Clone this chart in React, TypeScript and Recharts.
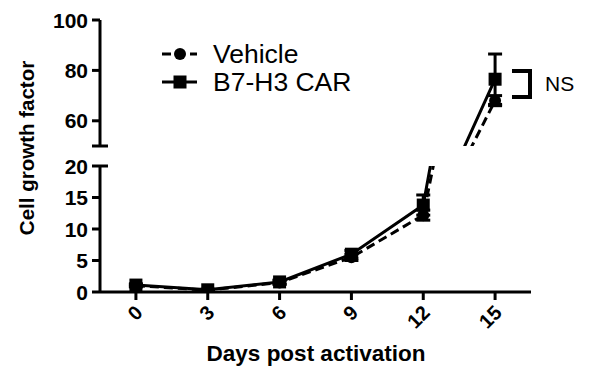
import { ErrorBar, Line, LineChart, XAxis, YAxis } from "recharts";

const days = [0, 3, 6, 9, 12, 15];
const vehicle = [1.0, 0.3, 1.5, 5.5, 12.2, 68];
const vehicleErr = [0.2, 0.1, 0.3, 0.5, 0.8, 2];
const car = [1.1, 0.35, 1.6, 6.0, 13.8, 76.5];
const carErr = [0.2, 0.1, 0.3, 0.6, 1.6, 10];

const upperTicks = [50, 60, 80, 100];
const lowerTicks = [0, 5, 10, 15, 20];

const data = days.map((d, i) => ({
  day: d,
  vehicle: vehicle[i],
  vehicleErr: vehicleErr[i],
  car: car[i],
  carErr: carErr[i],
}));

const FONT = "'Liberation Sans', Arial, sans-serif";

function SquareDot({ cx, cy }: any) {
  if (cx == null || cy == null) return null;
  return <rect x={cx - 6.5} y={cy - 6.5} width={13} height={13} fill="#000" />;
}

function CircleDot({ cx, cy }: any) {
  if (cx == null || cy == null) return null;
  return <circle cx={cx} cy={cy} r={6} fill="#000" />;
}

// y ticks: breaks get a cap across the axis, no label on the bottom of the upper part
function makeYTick(capValue: number, hideValue?: number) {
  return function YTick({ x, y, payload }: any) {
    const ax = x + 10;
    const cap = payload.value === capValue;
    return (
      <g>
        <line x1={ax - 8} y1={y} x2={cap ? ax + 8 : ax} y2={y} stroke="#000" strokeWidth={3} />
        {payload.value !== hideValue && (
          <text x={ax - 12} y={y} textAnchor="end" dominantBaseline="central" fontFamily={FONT} fontWeight="bold" fontSize={21} fill="#000">
            {payload.value}
          </text>
        )}
      </g>
    );
  };
}

function XTick({ x, y, payload }: any) {
  return (
    <text
      transform={`translate(${x + 3},${y + 7}) rotate(-45)`}
      textAnchor="end"
      dominantBaseline="central"
      fontFamily={FONT}
      fontWeight="bold"
      fontSize={20}
      fill="#000"
    >
      {payload.value}
    </text>
  );
}

function Series() {
  return [
    <Line key="v" dataKey="vehicle" stroke="#000" strokeWidth={3} strokeDasharray="9 5" dot={<CircleDot />} isAnimationActive={false}>
      <ErrorBar dataKey="vehicleErr" direction="y" width={7} stroke="#000" strokeWidth={3} />
    </Line>,
    <Line key="c" dataKey="car" stroke="#000" strokeWidth={3} dot={<SquareDot />} isAnimationActive={false}>
      <ErrorBar dataKey="carErr" direction="y" width={7} stroke="#000" strokeWidth={3} />
    </Line>,
  ];
}

const xDomain = [-1.5, 16.5];

export default function App() {
  return (
    <div style={{ position: "absolute", left: 0, top: 0, width: 595, height: 385, background: "#fff", fontFamily: FONT }}>
      {/* lower segment with the x axis */}
      <div style={{ position: "absolute", left: 0, top: 0 }}>
        <LineChart width={595} height={385} data={data} margin={{ top: 166, right: 64, bottom: 53, left: 0 }}>
          <XAxis
            dataKey="day"
            type="number"
            domain={xDomain}
            ticks={days}
            height={40}
            axisLine={{ stroke: "#000", strokeWidth: 3 }}
            tickLine={{ stroke: "#000", strokeWidth: 3 }}
            tickSize={8}
            tick={<XTick />}
          />
          <YAxis
            type="number"
            domain={[0, 20]}
            ticks={lowerTicks}
            allowDataOverflow
            width={100}
            axisLine={{ stroke: "#000", strokeWidth: 3 }}
            tickLine={false}
            tickSize={8}
            tickMargin={2}
            tick={makeYTick(20)}
          />
          {Series()}
        </LineChart>
      </div>
      {/* upper segment */}
      <div style={{ position: "absolute", left: 0, top: 0 }}>
        <LineChart width={595} height={160} data={data} margin={{ top: 20, right: 64, bottom: 14, left: 0 }}>
          <XAxis dataKey="day" type="number" domain={xDomain} ticks={days} hide />
          <YAxis
            type="number"
            domain={[50, 100]}
            ticks={upperTicks}
            allowDataOverflow
            width={100}
            axisLine={{ stroke: "#000", strokeWidth: 3 }}
            tickLine={false}
            tickSize={8}
            tickMargin={2}
            tick={makeYTick(50, 50)}
          />
          {Series()}
        </LineChart>
      </div>

      {/* legend */}
      <div style={{ position: "absolute", left: 160, top: 40 }}>
        {[
          { name: "Vehicle", dash: "9 5", dot: "circle" },
          { name: "B7-H3 CAR", dash: undefined, dot: "square" },
        ].map((s) => (
          <div key={s.name} style={{ display: "flex", alignItems: "center", height: 28 }}>
            <svg width={40} height={20}>
              <line x1={2} y1={10} x2={37} y2={10} stroke="#000" strokeWidth={3} strokeDasharray={s.dash} />
              {s.dot === "circle" ? <circle cx={20} cy={10} r={6} fill="#000" /> : <rect x={13.5} y={3.5} width={13} height={13} fill="#000" />}
            </svg>
            <span style={{ marginLeft: 13, fontSize: 26.5, lineHeight: "28px", color: "#000" }}>{s.name}</span>
          </div>
        ))}
      </div>

      {/* NS bracket */}
      <svg style={{ position: "absolute", left: 505, top: 62 }} width={35} height={45}>
        <polyline points="7,9 25,9 25,35 7,35" fill="none" stroke="#000" strokeWidth={4} />
      </svg>
      <div style={{ position: "absolute", left: 545, top: 72, fontSize: 21, lineHeight: "24px", color: "#000" }}>NS</div>

      {/* axis titles */}
      <div
        style={{
          position: "absolute",
          left: 27,
          top: 148,
          transform: "translate(-50%, -50%) rotate(-90deg)",
          whiteSpace: "nowrap",
          fontWeight: "bold",
          fontSize: 20.5,
          color: "#000",
        }}
      >
        Cell growth factor
      </div>
      <div
        style={{
          position: "absolute",
          left: 316,
          top: 354,
          transform: "translate(-50%, -50%)",
          whiteSpace: "nowrap",
          fontWeight: "bold",
          fontSize: 22.5,
          color: "#000",
        }}
      >
        Days post activation
      </div>
    </div>
  );
}
